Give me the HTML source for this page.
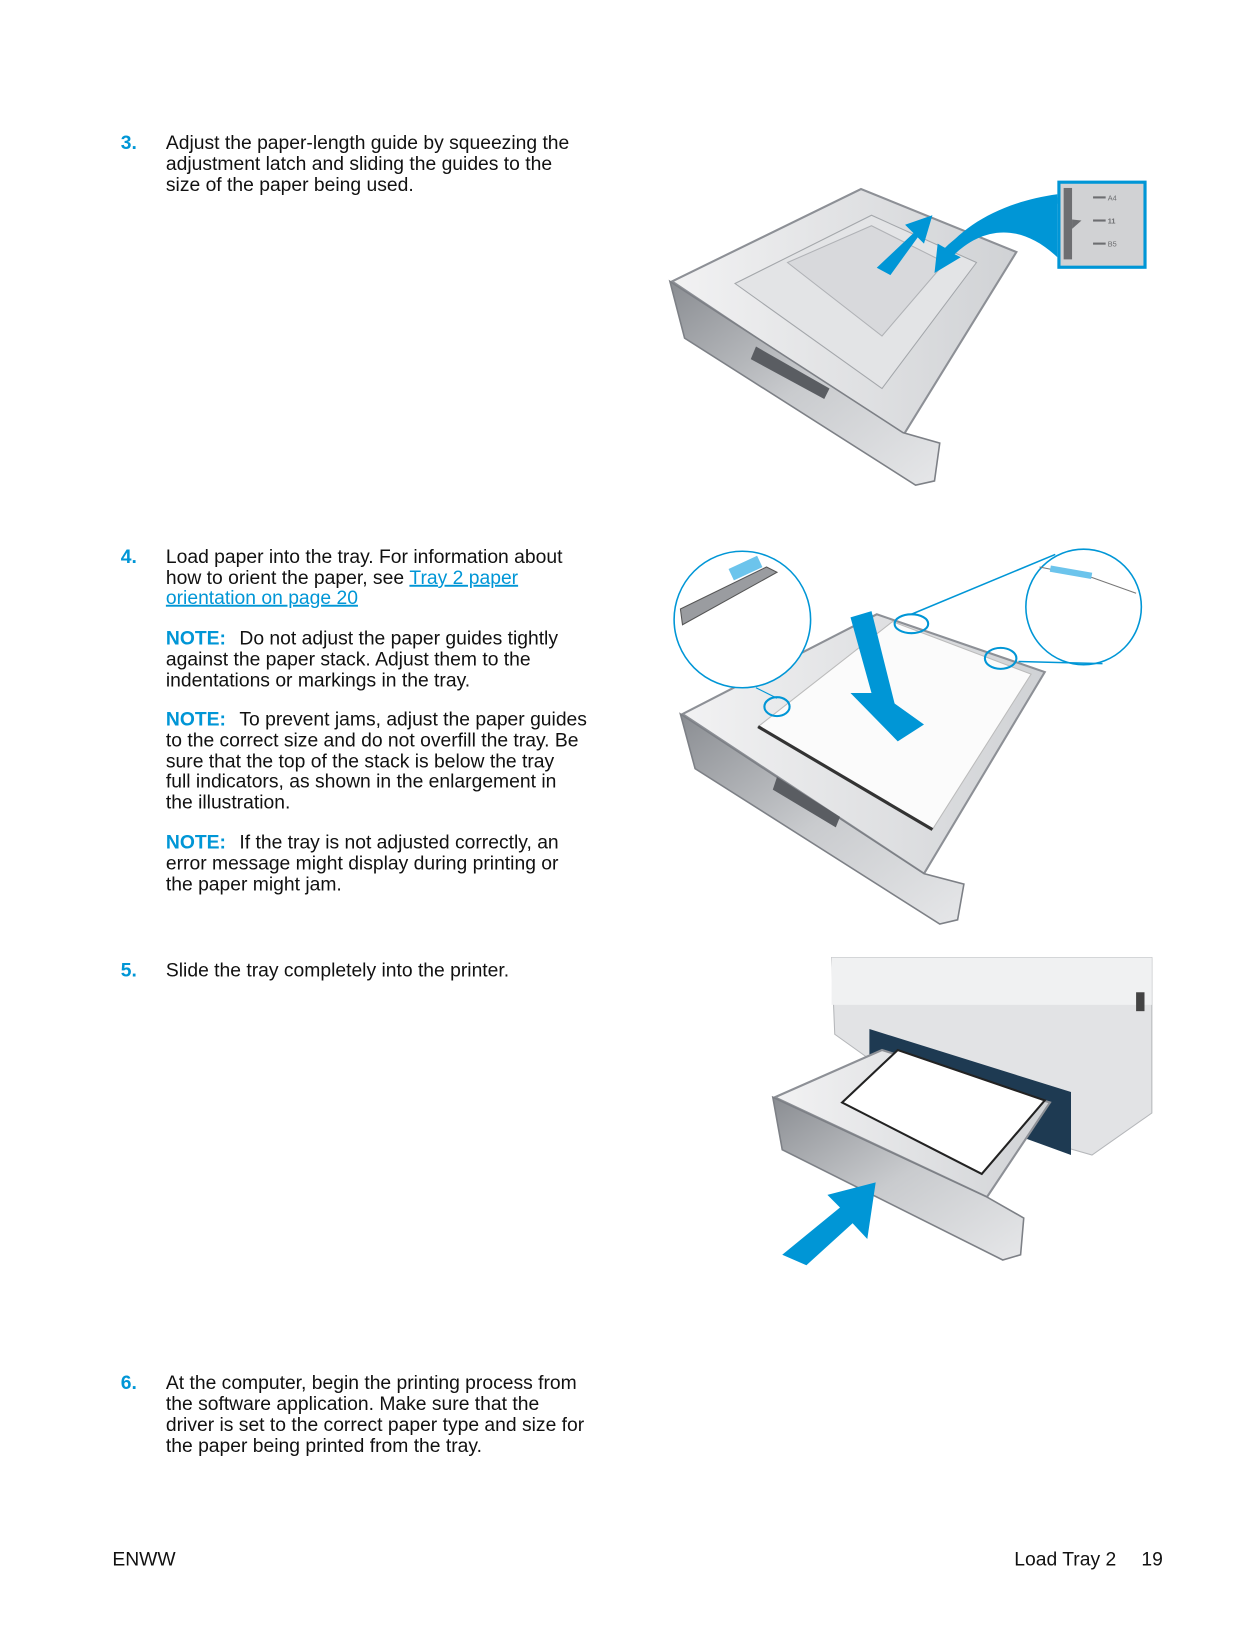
<!DOCTYPE html>
<html><head><meta charset="utf-8"><style>
html,body{margin:0;padding:0;background:#fff;width:1239px;height:1650px;overflow:hidden}
svg{display:block}
text{font-family:"Liberation Sans",sans-serif;font-size:18.4px;fill:#111}
.n{fill:#0096d6;font-weight:bold}
.l{fill:#0096d6;text-decoration:underline}
.s{font-family:"Liberation Sans",sans-serif;font-size:7px;fill:#6d6e71}
</style></head><body>
<svg width="1239" height="1650" viewBox="0 0 1180 1571.4" xmlns="http://www.w3.org/2000/svg">
<defs>
<linearGradient id="g1" x1="0" y1="0" x2="1" y2="1"><stop offset="0" stop-color="#8a8d92"/><stop offset=".5" stop-color="#c9cbce"/><stop offset="1" stop-color="#e6e7e9"/></linearGradient>
<linearGradient id="g2" x1="0" y1="0" x2="1" y2="0"><stop offset="0" stop-color="#f2f2f3"/><stop offset="1" stop-color="#d0d2d5"/></linearGradient>
</defs>
<text class="n" x="115" y="142">3.</text>
<text x="158" y="142">Adjust the paper-length guide by squeezing the</text>
<text x="158" y="162">adjustment latch and sliding the guides to the</text>
<text x="158" y="182">size of the paper being used.</text>
<text class="n" x="115" y="536">4.</text>
<text x="158" y="536">Load paper into the tray. For information about</text>
<text x="158" y="556">how to orient the paper, see <tspan class="l">Tray 2 paper</tspan></text>
<text x="158" y="575" class="l">orientation on page 20</text>
<text x="158" y="614"><tspan class="n">NOTE:</tspan><tspan x="228">Do not adjust the paper guides tightly</tspan></text>
<text x="158" y="634">against the paper stack. Adjust them to the</text>
<text x="158" y="654">indentations or markings in the tray.</text>
<text x="158" y="691"><tspan class="n">NOTE:</tspan><tspan x="228">To prevent jams, adjust the paper guides</tspan></text>
<text x="158" y="711">to the correct size and do not overfill the tray. Be</text>
<text x="158" y="731">sure that the top of the stack is below the tray</text>
<text x="158" y="750">full indicators, as shown in the enlargement in</text>
<text x="158" y="770">the illustration.</text>
<text x="158" y="808"><tspan class="n">NOTE:</tspan><tspan x="228">If the tray is not adjusted correctly, an</tspan></text>
<text x="158" y="828">error message might display during printing or</text>
<text x="158" y="848">the paper might jam.</text>
<text class="n" x="115" y="930">5.</text>
<text x="158" y="930">Slide the tray completely into the printer.</text>
<text class="n" x="115" y="1323">6.</text>
<text x="158" y="1323">At the computer, begin the printing process from</text>
<text x="158" y="1343">the software application. Make sure that the</text>
<text x="158" y="1363">driver is set to the correct paper type and size for</text>
<text x="158" y="1383">the paper being printed from the tray.</text>
<text x="107" y="1491">ENWW</text>
<text x="966" y="1491">Load Tray 2</text>
<text x="1087" y="1491">19</text>

<polygon points="640,268 820,180 968,240 860,415" fill="url(#g2)" stroke="#8d9096" stroke-width="2"/>
<polygon points="700,270 830,205 930,250 840,370" fill="#e3e4e6" stroke="#a3a6aa"/>
<polygon points="750,250 830,215 900,250 840,320" fill="#d8d9dc" stroke="#b0b2b6"/>
<polygon points="638,268 860,412 895,422 890,458 872,462 652,322" fill="url(#g1)" stroke="#7d8086" stroke-width="1.5"/>
<polygon points="720,330 790,370 785,380 715,342" fill="#5a5d62"/>
<polygon points="835,255 870,222 862,214 888,205 880,232 874,226 848,262" fill="#0096d6"/>
<path d="M1007,185 C955,192 915,215 895,245 L902,250 C925,222 965,205 1007,245 Z" fill="#0096d6"/>
<path d="M1007,188 C960,195 925,215 905,240 L915,245 L890,260 L893,232 L900,236 C925,212 960,198 1007,194 Z" fill="#0096d6"/>
<rect x="1007" y="172" width="85" height="84" fill="#0096d6"/>
<rect x="1010" y="175" width="79" height="78" fill="#d1d2d4"/>
<rect x="1013" y="179" width="8" height="68" fill="#6d6e71"/>
<polygon points="1021,209 1030,210 1021,218" fill="#6d6e71"/>
<rect x="1041" y="187" width="12" height="2" fill="#6d6e71"/><text x="1055" y="191" class="s">A4</text>
<rect x="1041" y="209" width="12" height="2" fill="#6d6e71"/><text x="1055" y="213" class="s" font-weight="bold">11</text>
<rect x="1041" y="231" width="12" height="2" fill="#6d6e71"/><text x="1055" y="235" class="s">B5</text>

<polygon points="650,680 835,585 995,640 880,832" fill="url(#g2)" stroke="#8d9096" stroke-width="2"/>
<polygon points="722,692 850,592 982,642 888,790" fill="#fbfbfb" stroke="#bbb"/>
<polyline points="722,692 888,790" stroke="#333" stroke-width="3" fill="none"/>
<polygon points="648,680 880,832 918,842 912,876 895,880 662,732" fill="url(#g1)" stroke="#7d8086" stroke-width="1.5"/>
<polygon points="740,740 800,778 796,788 736,752" fill="#5a5d62"/>
<polygon points="810,588 830,582 852,670 880,690 855,706 810,660 830,660" fill="#0096d6"/>
<circle cx="707" cy="590" r="65" fill="#fff" stroke="#0096d6" stroke-width="1.5"/>
<polygon points="648,580 730,540 740,545 650,595" fill="#9a9ca0" stroke="#555"/>
<rect x="695" y="535" width="30" height="12" fill="#6cc4ec" transform="rotate(-25 710 541)"/>
<line x1="720" y1="655" x2="740" y2="665" stroke="#0096d6"/>
<ellipse cx="740" cy="673" rx="12" ry="9" fill="none" stroke="#0096d6" stroke-width="2"/>
<circle cx="1032" cy="578" r="55" fill="#fff" stroke="#0096d6" stroke-width="1.5"/>
<path d="M990,540 L1040,550 L1082,565" stroke="#777" fill="none"/>
<rect x="1000" y="542" width="40" height="6" fill="#6cc4ec" transform="rotate(10 1020 545)"/>
<line x1="868" y1="585" x2="1005" y2="528" stroke="#0096d6" stroke-width="1.5"/>
<line x1="970" y1="630" x2="1050" y2="632" stroke="#0096d6" stroke-width="1.5"/>
<ellipse cx="868" cy="594" rx="16" ry="9" fill="none" stroke="#0096d6" stroke-width="2"/>
<ellipse cx="953" cy="627" rx="15" ry="10" fill="none" stroke="#0096d6" stroke-width="2"/>

<polygon points="792,912 1097,912 1097,1060 1040,1100 900,1060 795,985" fill="#e2e3e5" stroke="#b5b7ba"/>
<rect x="792" y="912" width="305" height="45" fill="#f0f1f2"/>
<rect x="1082" y="945" width="8" height="18" fill="#444"/>
<polygon points="828,980 1020,1040 1020,1100 828,1030" fill="#1e3a52"/>
<polygon points="738,1045 840,1000 1000,1050 940,1140" fill="url(#g2)" stroke="#8d9096" stroke-width="2"/>
<polygon points="802,1050 855,1000 995,1048 935,1118" fill="#fff" stroke="#222" stroke-width="2"/>
<polygon points="736,1045 940,1140 975,1160 972,1195 955,1200 745,1095" fill="url(#g1)" stroke="#7d8086" stroke-width="1.5"/>
<polygon points="745,1195 768,1205 812,1165 826,1180 834,1126 788,1138 800,1150" fill="#0096d6"/>
</svg>
</body></html>
